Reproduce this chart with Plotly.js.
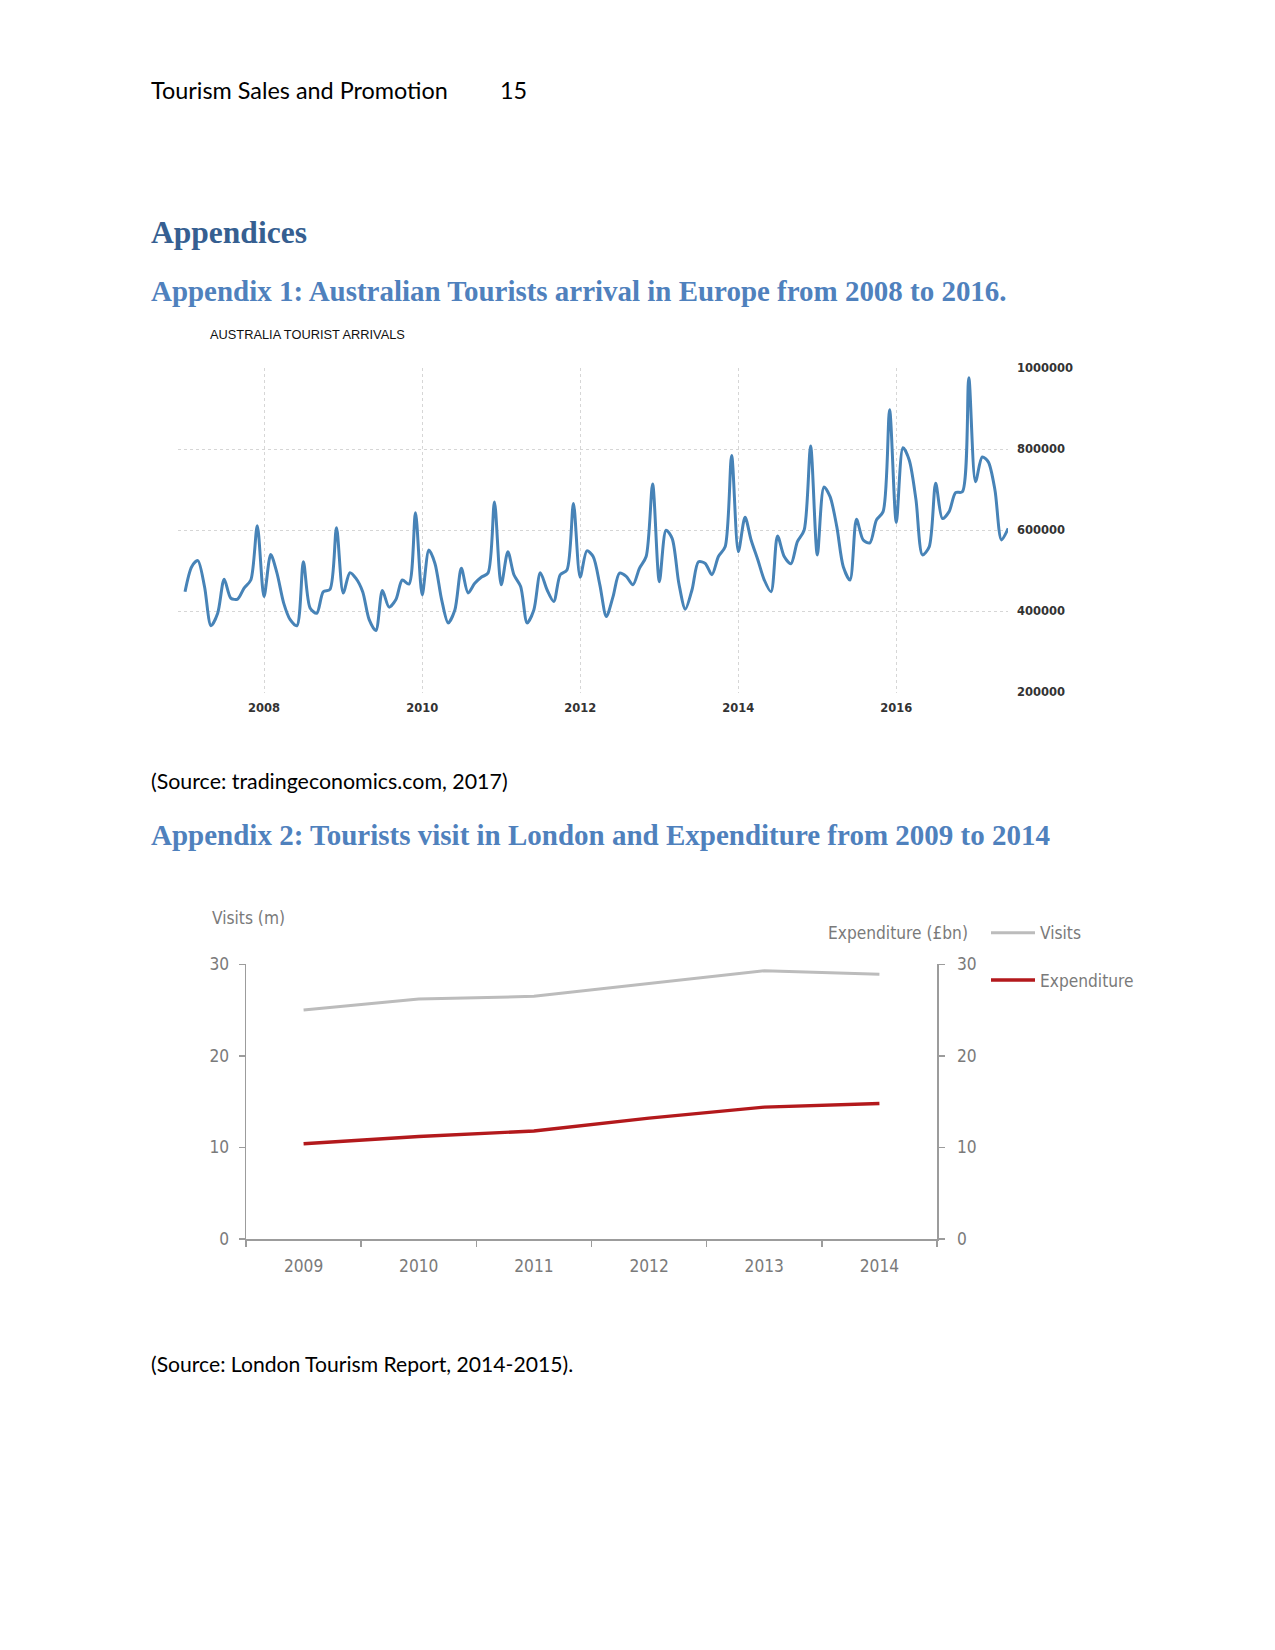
<!DOCTYPE html>
<html><head><meta charset="utf-8">
<script src="https://cdn.plot.ly/plotly-3.0.1.min.js"></script>
<style>html,body{margin:0;padding:0;background:#fff;} #page{width:1275px;height:1650px;}</style>
</head><body><div id="page"></div>
<script>
// ---------------- DATA ----------------
// Australia tourist arrivals, monthly (Jan..Dec)
const arrivals2007 = [448000, 510000, 525000, 461000, 364000, 395000, 479000, 432000, 430000, 457000, 477000, 611000];
const arrivals2008 = [436000, 540000, 494000, 420000, 379000, 364000, 522000, 408000, 395000, 448000, 454000, 606000];
const arrivals2009 = [445000, 495000, 481000, 448000, 379000, 352000, 451000, 410000, 428000, 477000, 467000, 643000];
const arrivals2010 = [440000, 551000, 518000, 428000, 371000, 403000, 506000, 445000, 469000, 484000, 494000, 670000];
const arrivals2011 = [465000, 547000, 490000, 461000, 371000, 403000, 495000, 453000, 424000, 490000, 502000, 666000];
const arrivals2012 = [484000, 549000, 535000, 465000, 387000, 436000, 494000, 486000, 465000, 506000, 535000, 714000];
const arrivals2013 = [473000, 600000, 580000, 469000, 405000, 453000, 522000, 518000, 490000, 535000, 559000, 785000];
const arrivals2014 = [547000, 632000, 576000, 527000, 477000, 448000, 586000, 535000, 517000, 572000, 600000, 808000];
const arrivals2015 = [539000, 707000, 683000, 609000, 510000, 477000, 627000, 576000, 569000, 625000, 646000, 898000];
const arrivals2016 = [619000, 804000, 773000, 675000, 539000, 559000, 716000, 629000, 646000, 693000, 695000, 977000];
const arrivals2017 = [720000, 781000, 769000, 699000, 576000, 605000];
const arrivalYears = [2007, 2008, 2009, 2010, 2011, 2012, 2013, 2014, 2015, 2016, 2017];
const arrivalSeries = [arrivals2007, arrivals2008, arrivals2009, arrivals2010, arrivals2011, arrivals2012,
                       arrivals2013, arrivals2014, arrivals2015, arrivals2016, arrivals2017];

// London visits (m) and expenditure (£bn)
const londonYears = ['2009', '2010', '2011', '2012', '2013', '2014'];
const londonVisits = [25.0, 26.2, 26.5, 27.9, 29.3, 28.9];
const londonExpenditure = [10.4, 11.2, 11.8, 13.2, 14.4, 14.8];

// ---------------- LAYOUT HELPERS ----------------
const W = 1275, H = 1650;
const px = x => x / W;
const py = y => 1 - y / H;

const ctx = document.createElement('canvas').getContext('2d');
function fit(text, family, weight, target) {
  ctx.font = weight + ' 100px ' + family;
  return 100 * target / ctx.measureText(text).width;
}

const dates = [], values = [];
arrivalYears.forEach((yr, k) => arrivalSeries[k].forEach((v, m) => {
  dates.push(yr + '-' + String(m + 1).padStart(2, '0') + '-01');
  values.push(v);
}));

const t08 = Date.UTC(2008, 0, 1), t16 = Date.UTC(2016, 0, 1);
const msPerPx = (t16 - t08) / (896.3 - 264);
const fmt = ms => new Date(ms).toISOString().slice(0, 19).replace('T', ' ');
const xr = [fmt(t08 - (264 - 178) * msPerPx), fmt(t08 + (1008 - 264) * msPerPx)];

const BODY = 'Lato';
const HEAD = 'Liberation Serif';
const SANS2 = '"Liberation Sans Narrow", "DejaVu Sans Condensed", Roboto, sans-serif';
const size2 = fit('Expenditure (£bn)', SANS2, 'normal', 140);

function docText(text, x, y, family, weight, color, target, fixedSize) {
  const size = fixedSize || fit(text, '"' + family + '"', weight, target);
  return {text: text, x: px(x), y: py(y), xref: 'paper', yref: 'paper', xanchor: 'left', yanchor: 'middle',
          showarrow: false, borderpad: 0,
          font: {family: family, size: size, color: color, weight: weight === 'bold' ? 700 : 400}};
}

const headerSize = fit('Tourism Sales and Promotion', '"Lato"', 'normal', 297);

const annotations = [
  docText('Tourism Sales and Promotion', 150, 90.5, BODY, 'normal', '#000', 297),
  docText('15', 499, 90.5, BODY, 'normal', '#000', 0, headerSize),
  docText('Appendices', 150, 232.5, HEAD, 'bold', '#365f91', 156),
  docText('Appendix 1: Australian Tourists arrival in Europe from 2008 to 2016.', 150, 291.5, HEAD, 'bold', '#4f81bd', 858),
  docText('(Source: tradingeconomics.com, 2017)', 150, 780.5, BODY, 'normal', '#000', 357),
  docText('Appendix 2: Tourists visit in London and Expenditure from 2009 to 2014', 150, 835, HEAD, 'bold', '#4f81bd', 900),
  docText('(Source: London Tourism Report, 2014-2015).', 150, 1364, BODY, 'normal', '#000', 423),
  docText('AUSTRALIA TOURIST ARRIVALS', 209, 334.5, 'Liberation Sans', 'normal', '#111', 197),
  {text: 'Visits (m)', x: px(211), y: py(918), xref: 'paper', yref: 'paper', xanchor: 'left', yanchor: 'middle',
   showarrow: false, borderpad: 0, font: {family: SANS2, size: size2, color: '#7a7a7a'}},
  {text: 'Expenditure (£bn)', x: px(969), y: py(933), xref: 'paper', yref: 'paper', xanchor: 'right', yanchor: 'middle',
   showarrow: false, borderpad: 0, font: {family: SANS2, size: size2, color: '#7a7a7a'}}
];

const tick1 = {family: 'DejaVu Sans', size: 11.5, color: '#333', weight: 700};
const tick2 = {family: SANS2, size: size2, color: '#7a7a7a'};
const axisGray = '#9c9c9c';

const traces = [
  {x: dates, y: values, xaxis: 'x', yaxis: 'y', type: 'scatter', mode: 'lines', showlegend: false,
   line: {color: '#4783b7', width: 3, shape: 'spline', smoothing: 0.8}, hoverinfo: 'skip'},
  {x: londonYears, y: londonVisits, xaxis: 'x2', yaxis: 'y2', type: 'scatter', mode: 'lines', name: 'Visits',
   legendgroup: 'a', line: {color: '#bcbcbc', width: 3}},
  {x: londonYears, y: londonExpenditure, xaxis: 'x2', yaxis: 'y3', type: 'scatter', mode: 'lines', name: 'Expenditure',
   legendgroup: 'b', line: {color: '#b3191c', width: 3.4}}
];

const layout = {
  width: W, height: H, margin: {l: 0, r: 0, t: 0, b: 0}, paper_bgcolor: '#fff', plot_bgcolor: 'rgba(0,0,0,0)',
  showlegend: true,
  legend: {x: px(986), y: py(915), xanchor: 'left', yanchor: 'top', traceorder: 'grouped', tracegroupgap: 22,
           itemwidth: 44, font: tick2, bgcolor: 'rgba(0,0,0,0)', borderwidth: 0},
  xaxis: {domain: [px(178), px(1008)], anchor: 'y', type: 'date', range: xr, tick0: '2008-01-01', dtick: 'M24',
          tickformat: '%Y', showgrid: true, gridcolor: '#d6d6d6', griddash: 'dot', gridwidth: 1,
          showline: false, zeroline: false, ticks: '', tickfont: tick1, ticklabelstandoff: 7, fixedrange: true},
  yaxis: {domain: [py(692.5), py(368)], anchor: 'x', side: 'right', range: [199000, 1001000], tick0: 200000, dtick: 200000,
          tickformat: 'd', showgrid: true, gridcolor: '#d6d6d6', griddash: 'dot', gridwidth: 1, zeroline: false,
          showline: false, ticks: '', tickfont: tick1, ticklabelstandoff: 8, fixedrange: true},
  xaxis2: {domain: [px(246), px(937)], anchor: 'y2', type: 'category', range: [-0.5, 5.5], showline: true,
           linecolor: axisGray, linewidth: 1.5, ticks: 'outside', tickson: 'boundaries', ticklen: 6, tickcolor: axisGray,
           tickwidth: 1.5, showgrid: false, zeroline: false, tickfont: tick2, ticklabelstandoff: 11, fixedrange: true},
  yaxis2: {domain: [py(1239), py(964.3)], anchor: 'x2', range: [0, 30], dtick: 10, showline: true, linecolor: axisGray,
           linewidth: 1.5, ticks: 'outside', ticklen: 6, tickcolor: axisGray, tickwidth: 1.5, showgrid: false,
           zeroline: false, tickfont: tick2, ticklabelstandoff: 6, fixedrange: true},
  yaxis3: {overlaying: 'y2', anchor: 'x2', side: 'right', range: [0, 30], dtick: 10, showline: true, linecolor: axisGray,
           linewidth: 1.5, ticks: 'outside', ticklen: 6, tickcolor: axisGray, tickwidth: 1.5, showgrid: false,
           zeroline: false, tickfont: tick2, ticklabelstandoff: 9, fixedrange: true},
  annotations: annotations
};

Plotly.newPlot('page', traces, layout, {displayModeBar: false, staticPlot: true});
</script></body></html>
